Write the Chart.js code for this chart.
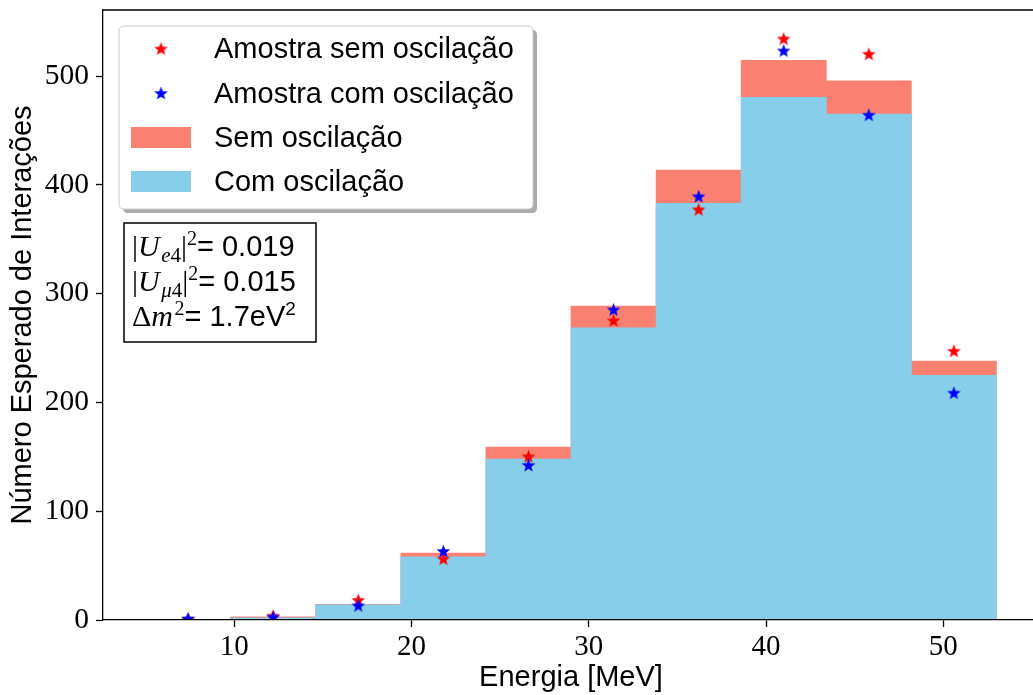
<!DOCTYPE html>
<html>
<head>
<meta charset="utf-8">
<title>Número Esperado de Interações</title>
<script src="https://cdn.jsdelivr.net/npm/chart.js@4.4.1/dist/chart.umd.min.js"></script>
<style>
  html, body { margin: 0; padding: 0; background: #fff; }
  #wrap { width: 1033px; height: 695px; overflow: hidden; }
  #chart { display: block; }
</style>
</head>
<body>
<div id="wrap"><canvas id="chart" width="1044" height="695"></canvas></div>
<script>
// Histogram bins (MeV), bin width 4.8
const binCenters = [7.4, 12.2, 17.0, 21.8, 26.6, 31.4, 36.2, 41.0, 45.8, 50.6];

// Expected counts per bin
const semOscilacao = [0, 3, 14.5, 61.5, 159, 288.5, 413.5, 514.5, 495.5, 238];
const comOscilacao = [0, 2, 14, 58, 148, 268.5, 383, 480.5, 465, 225];

// Sampled counts per bin
const amostraSem = [0.5, 3.5, 18, 56, 150, 275, 377, 534, 520, 247];
const amostraCom = [1, 2.5, 13, 63, 142, 285, 389, 523, 464, 208.5];

const xTicks = [10, 20, 30, 40, 50];
const yTicks = [0, 100, 200, 300, 400, 500];

const SANS = '"Liberation Sans", Arial, sans-serif';
const SERIF = '"Liberation Serif", "DejaVu Serif", serif';

// Filled five-point star used as marker
function makeStar(color) {
  const c = document.createElement('canvas');
  c.width = 15;
  c.height = 15;
  const g = c.getContext('2d');
  g.fillStyle = color;
  g.beginPath();
  for (let i = 0; i < 10; i++) {
    const r = i % 2 ? 3 : 7.2;
    const a = -Math.PI / 2 + i * Math.PI / 5;
    const px = 7.5 + r * Math.cos(a);
    const py = 7.8 + r * Math.sin(a);
    if (i === 0) g.moveTo(px, py); else g.lineTo(px, py);
  }
  g.closePath();
  g.fill();
  return c;
}
const redStar = makeStar('#ff0000');
const blueStar = makeStar('#0000ff');

const toPoints = arr => binCenters.map((x, i) => ({ x: x, y: arr[i] }));

// Parameter box lines (math parts in serif, values in sans)
const paramLines = [
  [['|', 'n', 30, 0], ['U', 'i', 30, 0], ['e', 'i', 21, 6], ['4', 'n', 21, 6], ['|', 'n', 30, 0], ['2', 'n', 20, -11], ['= 0.019', 's', 29, 0]],
  [['|', 'n', 30, 0], ['U', 'i', 30, 0], ['μ', 'i', 21, 6], ['4', 'n', 21, 6], ['|', 'n', 30, 0], ['2', 'n', 20, -11], ['= 0.015', 's', 29, 0]],
  [['Δ', 'n', 30, 0], ['m', 'i', 30, 0], ['2', 'n', 20, -11], ['= 1.7eV', 's', 29, 0], ['2', 's', 19, -11]]
];

function segFont(kind, size) {
  if (kind === 's') return size + 'px ' + SANS;
  if (kind === 'i') return 'italic ' + size + 'px ' + SERIF;
  return size + 'px ' + SERIF;
}

function roundRect(ctx, x, y, w, h, r) {
  ctx.beginPath();
  ctx.moveTo(x + r, y);
  ctx.lineTo(x + w - r, y);
  ctx.quadraticCurveTo(x + w, y, x + w, y + r);
  ctx.lineTo(x + w, y + h - r);
  ctx.quadraticCurveTo(x + w, y + h, x + w - r, y + h);
  ctx.lineTo(x + r, y + h);
  ctx.quadraticCurveTo(x, y + h, x, y + h - r);
  ctx.lineTo(x, y + r);
  ctx.quadraticCurveTo(x, y, x + r, y);
  ctx.closePath();
}

const decorPlugin = {
  id: 'decor',
  afterDatasetsDraw(chart) {
    const ctx = chart.ctx;
    const a = chart.chartArea;
    ctx.save();

    // top and right spines
    ctx.strokeStyle = '#000';
    ctx.lineWidth = 1.3;
    ctx.beginPath();
    ctx.moveTo(a.left, a.top);
    ctx.lineTo(a.right, a.top);
    ctx.lineTo(a.right, a.bottom);
    ctx.stroke();

    // legend
    const lx = 119, ly = 26, lw = 414, lh = 183;
    ctx.fillStyle = 'rgba(0,0,0,0.33)';
    roundRect(ctx, lx + 4, ly + 4, lw, lh, 5);
    ctx.fill();
    ctx.fillStyle = '#fff';
    roundRect(ctx, lx, ly, lw, lh, 5);
    ctx.fill();
    ctx.strokeStyle = '#cccccc';
    ctx.lineWidth = 1;
    ctx.stroke();

    const rows = [49, 93.5, 137.5, 181.5];
    ctx.font = '29px ' + SANS;
    ctx.textBaseline = 'middle';
    ctx.textAlign = 'left';
    chart.data.datasets.forEach((ds, i) => {
      const y = rows[i];
      if (ds.type === 'scatter') {
        const img = ds.pointStyle;
        ctx.drawImage(img, 161 - img.width / 2, y - img.height / 2);
      } else {
        ctx.fillStyle = ds.backgroundColor;
        ctx.fillRect(131, y - 10.5, 60, 21);
      }
      ctx.fillStyle = '#000';
      ctx.fillText(ds.label, 214, y + 1);
    });

    // parameter box
    ctx.fillStyle = '#fff';
    ctx.fillRect(124, 223, 192, 119);
    ctx.strokeStyle = '#000';
    ctx.lineWidth = 1.5;
    ctx.strokeRect(124, 223, 192, 119);
    ctx.textBaseline = 'alphabetic';
    ctx.fillStyle = '#000';
    paramLines.forEach((segs, li) => {
      let x = 132;
      const base = 256 + li * 35;
      segs.forEach(s => {
        ctx.font = segFont(s[1], s[2]);
        ctx.fillText(s[0], x, base + s[3]);
        x += ctx.measureText(s[0]).width + (s[1] === 'i' && s[2] > 25 ? 1.5 : 0);
      });
    });

    ctx.restore();
  }
};

new Chart(document.getElementById('chart'), {
  type: 'bar',
  data: {
    datasets: [
      {
        type: 'scatter',
        label: 'Amostra sem oscilação',
        data: toPoints(amostraSem),
        pointStyle: redStar,
        order: 1
      },
      {
        type: 'scatter',
        label: 'Amostra com oscilação',
        data: toPoints(amostraCom),
        pointStyle: blueStar,
        order: 0
      },
      {
        label: 'Sem oscilação',
        data: toPoints(semOscilacao),
        backgroundColor: '#fa8072',
        grouped: false,
        barPercentage: 1,
        categoryPercentage: 1,
        borderWidth: 0,
        order: 3
      },
      {
        label: 'Com oscilação',
        data: toPoints(comOscilacao),
        backgroundColor: '#87ceeb',
        grouped: false,
        barPercentage: 1,
        categoryPercentage: 1,
        borderWidth: 0,
        order: 2
      }
    ]
  },
  options: {
    responsive: false,
    animation: false,
    layout: { padding: { left: 0, right: 2, top: 10, bottom: 0 } },
    plugins: {
      legend: { display: false },
      tooltip: { enabled: false }
    },
    scales: {
      x: {
        type: 'linear',
        min: 2.6,
        max: 55.4,
        offset: false,
        afterBuildTicks: axis => { axis.ticks = xTicks.map(v => ({ value: v })); },
        afterFit: axis => {
          axis.height = 75;
          axis.paddingLeft = 0;
          axis.paddingRight = 0;
        },
        grid: { offset: false, drawOnChartArea: false, drawTicks: true, tickLength: 7, tickWidth: 1.3, tickColor: '#000' },
        border: { display: true, color: '#000', width: 1.3, z: 1 },
        ticks: { color: '#000', font: { family: SERIF, size: 29 }, padding: 3, maxRotation: 0 },
        title: { display: true, text: 'Energia [MeV]', color: '#000', font: { family: SANS, size: 29 }, padding: { top: 0, bottom: 0 } }
      },
      y: {
        type: 'linear',
        min: 0,
        max: 560.7,
        afterBuildTicks: axis => { axis.ticks = yTicks.map(v => ({ value: v })); },
        afterFit: axis => {
          axis.width = 103;
          axis.paddingTop = 0;
          axis.paddingBottom = 0;
        },
        grid: { drawOnChartArea: false, drawTicks: true, tickLength: 7, tickWidth: 1.3, tickColor: '#000' },
        border: { display: true, color: '#000', width: 1.3, z: 1 },
        ticks: { color: '#000', font: { family: SERIF, size: 29.5 }, padding: 7 },
        title: { display: true, text: 'Número Esperado de Interações', color: '#000', font: { family: SANS, size: 29 }, padding: { top: 6, bottom: 0 } }
      }
    }
  },
  plugins: [decorPlugin]
});
</script>
</body>
</html>
